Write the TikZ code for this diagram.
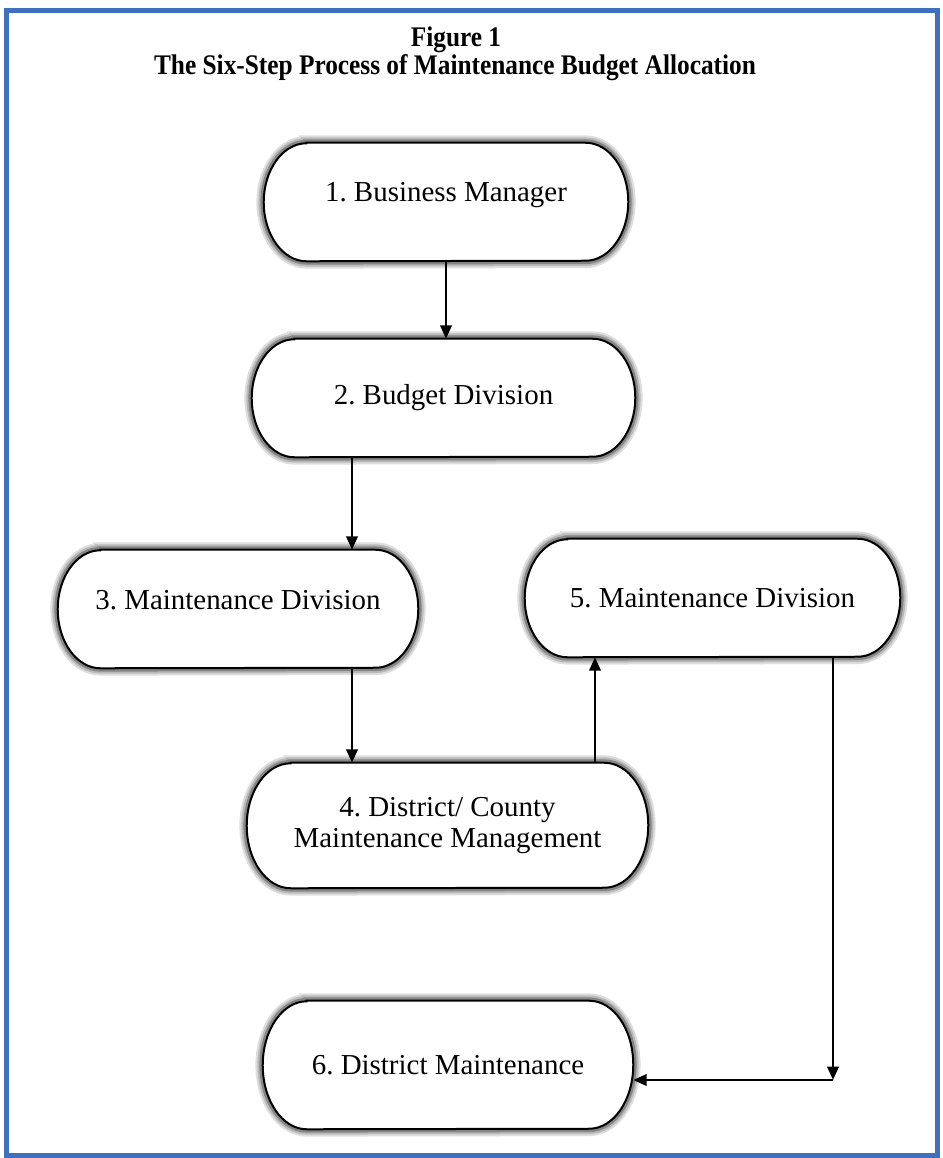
\documentclass[tikz,border=0pt]{standalone}
\usepackage{fontspec}
\setmainfont{Liberation Serif}
\usetikzlibrary{arrows.meta,backgrounds}
\definecolor{framecol}{RGB}{62,112,190}
\frenchspacing
\newcommand\termshape[3]{%
  \foreach \w/\c in {11pt/13,8pt/27,5pt/48}{%
    \draw[line width=\w, draw=black!\c]
      ([xshift=#2]#1.north west) -- ([xshift=-#2]#1.north east)
      arc[start angle=90,end angle=-90,x radius=#2,y radius=#3]
      -- ([xshift=#2]#1.south west)
      arc[start angle=270,end angle=90,x radius=#2,y radius=#3] -- cycle;}
  \draw[termline]
      ([xshift=#2]#1.north west) -- ([xshift=-#2]#1.north east)
      arc[start angle=90,end angle=-90,x radius=#2,y radius=#3]
      -- ([xshift=#2]#1.south west)
      arc[start angle=270,end angle=90,x radius=#2,y radius=#3] -- cycle;}
\begin{document}
\frenchspacing
\begin{tikzpicture}[x=0.75pt,y=-0.75pt,
  termnode/.style={shape=rectangle, draw=none, inner sep=0pt, align=center,
    font=\frenchspacing\fontsize{21.7pt}{23pt}\selectfont, minimum height=88.5pt},
  termline/.style={draw=black, line width=1.5pt, fill=white},
  titletext/.style={font=\bfseries\fontsize{19pt}{22pt}\selectfont, anchor=base},
  arr/.style={draw=black, line width=1.9pt, -{Triangle[length=10pt,width=8.5pt]}}]
\useasboundingbox (0,0) rectangle (943,1158);

\node[titletext] (t1) at (456,46) {\scalebox{1}[1.12]{Figure 1}};
\node[titletext] (t2) at (455,74) {\scalebox{1}[1.12]{The Six-Step Process of Maintenance Budget Allocation}};

\node[termnode, minimum width=273pt] (n1) at (446,202) {\raisebox{5pt}[\height][\depth]{1. Business Manager}};
\node[termnode, minimum width=287.25pt] (n2) at (443.5,398) {2. Budget Division};
\node[termnode, minimum width=270pt] (n3) at (238,609) {\raisebox{7pt}[\height][\depth]{3. Maintenance Division}};
\node[termnode, minimum width=281.25pt] (n5) at (712.5,598) {5. Maintenance Division};
\node[termnode, minimum width=300.75pt, minimum height=93.75pt] (n4) at (447.5,825.5) {4. District/ County\\Maintenance Management};
\node[termnode, minimum width=277.5pt, minimum height=96pt] (n6) at (448,1065) {6. District Maintenance};

\begin{pgfonlayer}{background}
  \fill[white] (0,0) rectangle (943,1158);
  \draw[framecol, line width=3.75pt] (6.5,10.5) rectangle (937.5,1155);
  \termshape{n1}{32pt}{44.25pt}
  \termshape{n2}{32pt}{44.25pt}
  \termshape{n3}{32pt}{44.25pt}
  \termshape{n5}{32pt}{44.25pt}
  \termshape{n4}{33pt}{46.875pt}
  \termshape{n6}{33pt}{48pt}
\end{pgfonlayer}

\coordinate (xa) at (352,0);
\coordinate (xb) at (595,0);
\coordinate (xc) at (833,0);
\coordinate (corner) at (833,1080);

\draw[arr] (n1.south) -- (n1.south |- n2.north);
\draw[arr] (n2.south -| xa) -- (n3.north -| xa);
\draw[arr] (n3.south -| xa) -- (n4.north -| xa);
\draw[arr] (n4.north -| xb) -- (n5.south -| xb);
\draw[arr] (n5.south -| xc) -- (corner);
\draw[arr] (corner) -- (corner -| n6.east);
\end{tikzpicture}
\end{document}
